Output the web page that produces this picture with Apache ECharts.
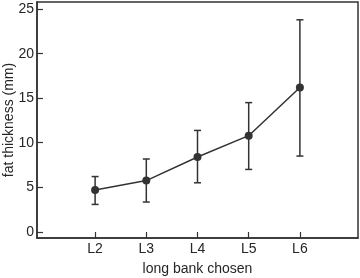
<!DOCTYPE html>
<html><head><meta charset="utf-8">
<script src="https://cdn.jsdelivr.net/npm/echarts@6/dist/echarts.min.js"></script>
<style>html,body{margin:0;padding:0;background:#fff}#c{width:360px;height:278px}</style>
</head><body><div id="c"></div>
<script>
var categories = ['L2','L3','L4','L5','L6'];
var positions = [2,3,4,5,6];
var means = [4.69, 5.75, 8.39, 10.79, 16.2];
var upper = [6.2, 8.17, 11.38, 14.5, 23.8];
var lower = [3.07, 3.34, 5.5, 7.0, 8.5];
var yTicks = [0,5,10,15,20,25];

var lineData = positions.map(function(p,i){return [p, means[i]];});
var errData = positions.map(function(p,i){return [p, lower[i], upper[i]];});
var col = '#333333';
var txt = '#262626';
var ff = 'Liberation Sans, Arial';
var chart = echarts.init(document.getElementById('c'), null, {renderer:'canvas'});
chart.setOption({
  animation:false,
  grid:{left:37, right:2, top:2, bottom:40, show:true, borderColor:col, borderWidth:1.5, containLabel:false, outerBoundsMode:'none'},
  xAxis:{
    type:'value', min:0.865, max:7.135,
    name:'long bank chosen', nameLocation:'middle', nameGap:24, nameMoveOverlap:false,
    nameTextStyle:{fontFamily:ff, fontSize:14, color:txt},
    axisLine:{show:true, onZero:false, lineStyle:{color:col, width:1.5}},
    axisTick:{show:true, inside:true, length:6, customValues:positions, lineStyle:{color:col, width:1.2}},
    axisLabel:{customValues:positions, margin:4, fontFamily:ff, fontSize:14, color:txt,
      formatter:function(v){var i=positions.indexOf(Math.round(v)); return i>=0?categories[i]:'';}},
    splitLine:{show:false}
  },
  yAxis:{
    type:'value', min:-0.7, max:25.8,
    name:'fat thickness (mm)', nameLocation:'middle', nameGap:21, nameMoveOverlap:false,
    nameTextStyle:{fontFamily:ff, fontSize:14, color:txt},
    axisLine:{show:true, onZero:false, lineStyle:{color:col, width:1.5}},
    axisTick:{show:true, inside:true, length:6, customValues:yTicks, lineStyle:{color:col, width:1.2}},
    axisLabel:{customValues:yTicks, margin:3, fontFamily:ff, fontSize:14, color:txt},
    splitLine:{show:false}
  },
  series:[
    {type:'custom', data:errData, z:2,
     renderItem:function(params, api){
       var x=api.value(0), lo=api.coord([x, api.value(1)]), hi=api.coord([x, api.value(2)]);
       var w=3.5;
       var st={stroke:col, lineWidth:1.5};
       return {type:'group', children:[
         {type:'line', shape:{x1:lo[0],y1:lo[1],x2:hi[0],y2:hi[1]}, style:st},
         {type:'line', shape:{x1:lo[0]-w,y1:lo[1],x2:lo[0]+w,y2:lo[1]}, style:st},
         {type:'line', shape:{x1:hi[0]-w,y1:hi[1],x2:hi[0]+w,y2:hi[1]}, style:st}
       ]};
     }},
    {type:'line', data:lineData, z:3, symbol:'circle', symbolSize:8,
     lineStyle:{color:col, width:1.5}, itemStyle:{color:col}}
  ]
});
</script></body></html>
